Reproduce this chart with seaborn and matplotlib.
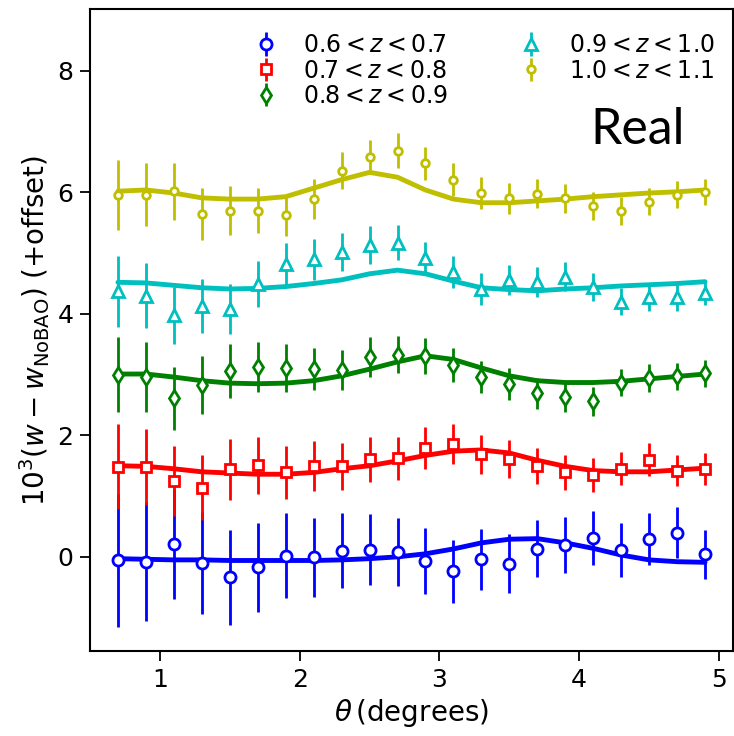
import numpy as np
import pandas as pd
import matplotlib
matplotlib.use("Agg")
import matplotlib.pyplot as plt
import seaborn as sns

# Angular bins (degrees)
theta = [0.7, 0.9, 1.1, 1.3, 1.5, 1.7, 1.9, 2.1, 2.3, 2.5, 2.7,
         2.9, 3.1, 3.3, 3.5, 3.7, 3.9, 4.1, 4.3, 4.5, 4.7, 4.9]

labels = [r"$0.6 < z < 0.7$", r"$0.7 < z < 0.8$", r"$0.8 < z < 0.9$",
          r"$0.9 < z < 1.0$", r"$1.0 < z < 1.1$"]
colors = ["#0000ff", "#ff0000", "#008000", "#00bfbf", "#bfbf00"]
markers = ["o", "s", "d", "^", "o"]
msizes = [8, 7.5, 8, 8, 5.5]

# measured 10^3 (w - w_NoBAO), offset already included
data_z1 = [-0.06, -0.08, 0.21, -0.10, -0.34, -0.17, 0.02, -0.01, 0.10, 0.12, 0.08,
           -0.07, -0.24, -0.04, -0.11, 0.13, 0.20, 0.31, 0.11, 0.30, 0.40, 0.04]
data_z2 = [1.48, 1.48, 1.25, 1.14, 1.44, 1.51, 1.39, 1.50, 1.49, 1.61, 1.62,
           1.79, 1.86, 1.69, 1.61, 1.50, 1.39, 1.35, 1.45, 1.60, 1.42, 1.45]
data_z3 = [3.00, 2.96, 2.61, 2.83, 3.06, 3.12, 3.11, 3.09, 3.08, 3.29, 3.33,
           3.31, 3.16, 2.96, 2.85, 2.69, 2.63, 2.56, 2.87, 2.94, 2.97, 3.02]
data_z4 = [4.37, 4.30, 3.98, 4.13, 4.08, 4.49, 4.82, 4.90, 5.02, 5.13, 5.17,
           4.92, 4.69, 4.41, 4.56, 4.52, 4.61, 4.45, 4.20, 4.28, 4.27, 4.35]
data_z5 = [5.96, 5.96, 6.02, 5.65, 5.70, 5.70, 5.62, 5.89, 6.36, 6.58, 6.69,
           6.48, 6.21, 5.99, 5.90, 5.98, 5.90, 5.78, 5.70, 5.85, 5.96, 6.01]

# 1-sigma errors
err_z1 = [1.09, 0.98, 0.90, 0.84, 0.78, 0.73, 0.70, 0.65, 0.62, 0.59, 0.56,
          0.54, 0.52, 0.50, 0.49, 0.47, 0.46, 0.45, 0.44, 0.43, 0.42, 0.41]
err_z2 = [0.70, 0.62, 0.58, 0.54, 0.50, 0.47, 0.44, 0.41, 0.39, 0.37, 0.35,
          0.34, 0.33, 0.32, 0.31, 0.30, 0.29, 0.28, 0.27, 0.27, 0.26, 0.26]
err_z3 = [0.62, 0.57, 0.52, 0.48, 0.45, 0.41, 0.39, 0.35, 0.33, 0.33, 0.31,
          0.30, 0.28, 0.27, 0.26, 0.25, 0.24, 0.24, 0.23, 0.23, 0.22, 0.22]
err_z4 = [0.58, 0.53, 0.47, 0.45, 0.41, 0.38, 0.35, 0.34, 0.31, 0.31, 0.29,
          0.26, 0.27, 0.26, 0.25, 0.25, 0.24, 0.23, 0.22, 0.23, 0.22, 0.21]
err_z5 = [0.58, 0.52, 0.47, 0.43, 0.40, 0.37, 0.34, 0.33, 0.31, 0.28, 0.28,
          0.27, 0.27, 0.26, 0.25, 0.24, 0.24, 0.23, 0.23, 0.22, 0.22, 0.21]

# best-fit BAO model curves
model_z1 = [-0.03, -0.04, -0.05, -0.05, -0.06, -0.06, -0.06, -0.06, -0.05, -0.03, 0.00,
            0.05, 0.13, 0.23, 0.29, 0.30, 0.23, 0.14, 0.03, -0.05, -0.08, -0.09]
model_z2 = [1.50, 1.49, 1.45, 1.40, 1.38, 1.36, 1.36, 1.39, 1.45, 1.50, 1.58,
            1.67, 1.74, 1.76, 1.71, 1.59, 1.49, 1.42, 1.40, 1.40, 1.43, 1.46]
model_z3 = [3.01, 3.01, 2.96, 2.90, 2.86, 2.85, 2.86, 2.90, 2.98, 3.09, 3.21,
            3.31, 3.25, 3.11, 2.98, 2.90, 2.87, 2.87, 2.89, 2.93, 2.97, 3.01]
model_z4 = [4.52, 4.51, 4.47, 4.43, 4.41, 4.42, 4.45, 4.50, 4.56, 4.66, 4.72,
            4.66, 4.54, 4.43, 4.40, 4.38, 4.41, 4.43, 4.46, 4.48, 4.50, 4.53]
model_z5 = [6.02, 6.04, 5.99, 5.91, 5.89, 5.89, 5.93, 6.07, 6.21, 6.33, 6.25,
            6.04, 5.89, 5.83, 5.83, 5.86, 5.89, 5.93, 5.96, 5.99, 6.01, 6.04]

data = [data_z1, data_z2, data_z3, data_z4, data_z5]
errs = [err_z1, err_z2, err_z3, err_z4, err_z5]
models = [model_z1, model_z2, model_z3, model_z4, model_z5]

sns.set_style("ticks", {"text.color": "black", "axes.labelcolor": "black",
                        "xtick.color": "black", "ytick.color": "black",
                        "axes.edgecolor": "black"})
plt.rcParams["font.family"] = ["DejaVu Sans"]
plt.rcParams["mathtext.fontset"] = "dejavusans"

fig = plt.figure(figsize=(7.34, 7.36), dpi=100)
ax = fig.add_axes([0.1226, 0.1155, 0.8760, 0.8723])

handles = []
for i in range(5):
    h = ax.errorbar(theta, data[i], yerr=errs[i], fmt=markers[i], color=colors[i],
                    mfc="white", mec=colors[i], mew=2, ms=msizes[i],
                    elinewidth=2, capsize=0, label=labels[i])
    handles.append(h)
    df = pd.DataFrame({"theta": theta, "model": models[i]})
    sns.lineplot(data=df, x="theta", y="model", color=colors[i], lw=3.5, ax=ax)

ax.set_xlim(0.5, 5.1)
ax.set_ylim(-1.55, 9.02)
ax.set_xticks([1, 2, 3, 4, 5])
ax.set_yticks([0, 2, 4, 6, 8])
ax.tick_params(labelsize=18, width=1.3, length=7, pad=5)
for s in ax.spines.values():
    s.set_linewidth(1.5)

ax.set_xlabel(r"$\theta\,$(degrees)", fontsize=20, labelpad=4)
ax.set_ylabel(r"$10^3(w - w_{\rm NoBAO})$ (+offset)", fontsize=20)

ax.legend(handles=handles, ncol=2, loc="upper right", frameon=False,
          fontsize=17, handletextpad=0.6, columnspacing=2.5,
          labelspacing=0.05, bbox_to_anchor=(1.005, 0.995))

ax.text(0.851, 0.811, "Real", transform=ax.transAxes, fontsize=36,
        family="Lato", ha="center", va="center")

fig.savefig("out.png", dpi=100)
